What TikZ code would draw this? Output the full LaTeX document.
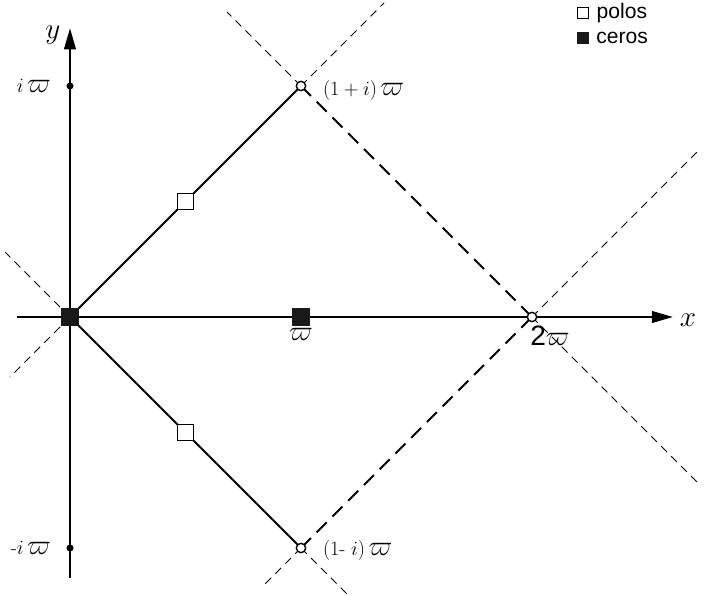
\documentclass[tikz,border=0pt]{standalone}
\usepackage{fontspec}
\setsansfont{Liberation Sans}
\usepackage{graphicx}
\usetikzlibrary{arrows.meta, positioning}

\newcommand{\bvarpi}{\scalebox{1.4}{$\varpi$}}

\begin{document}
\begin{tikzpicture}[
  x=6.93cm, y=6.93cm,
  every node/.style={font=\fontsize{17.28}{20}\selectfont},
  axis/.style={line width=1.7pt, -{Triangle[length=18pt,width=10pt]}},
  edge/.style={line width=1.6pt},
  period/.style={line width=1.6pt, dash pattern=on 12pt off 7pt},
  guide/.style={line width=0.8pt, dash pattern=on 7pt off 5pt},
  pole/.style={draw, line width=1.2pt, fill=white, minimum size=14pt, inner sep=0pt},
  zero/.style={fill=black!90, minimum size=15pt, inner sep=0pt},
  corner/.style={circle, draw, line width=1.2pt, fill=white, minimum size=8pt, inner sep=0pt},
  dot/.style={circle, fill=black, minimum size=6pt, inner sep=0pt},
  lbl/.style={inner sep=1pt},
  axlbl/.style={font=\fontsize{24.88}{28}\selectfont, inner sep=0pt},
  key/.style={font=\sffamily\fontsize{18}{21}\selectfont, anchor=west, inner sep=0pt}
]
\useasboundingbox (-0.3030,-1.2035) rectangle (2.7489,1.3723);

% lattice points
\coordinate (O)  at (0,0);
\coordinate (W)  at (1,0);
\coordinate (W2) at (2,0);
\coordinate (P)  at (1,1);
\coordinate (M)  at (1,-1);

% ends of the guide lines
\coordinate (ul) at (-0.28,0.28);
\coordinate (ll) at (-0.26,-0.26);
\coordinate (tl) at (0.68,1.32);
\coordinate (tr) at (1.36,1.36);
\coordinate (bl) at (0.83,-1.17);
\coordinate (br) at (1.2,-1.2);
\coordinate (er) at (2.72,0.72);
\coordinate (fr) at (2.72,-0.72);

% axes
\coordinate (xs) at (-0.23,0);
\coordinate (xe) at (2.61,0);
\coordinate (ys) at (0,-1.13);
\coordinate (ye) at (0,1.25);
\draw[axis] (xs) -- (xe);
\draw[axis] (ys) -- (ye);
\node[axlbl] (xl) at (2.675,-0.013) {$x$};
\node[axlbl] (yl) at (-0.074,1.221) {$y$};

% guide lines
\draw[guide] (O) -- (ul);
\draw[guide] (O) -- (ll);
\draw[guide] (P) -- (tl);
\draw[guide] (P) -- (tr);
\draw[guide] (M) -- (bl);
\draw[guide] (M) -- (br);
\draw[guide] (W2) -- (er);
\draw[guide] (W2) -- (fr);

% fundamental cell
\draw[edge] (O) -- (P);
\draw[edge] (O) -- (M);
\draw[period] (P) -- (W2);
\draw[period] (M) -- (W2);

% poles and zeros
\node[pole] (p1) at (0.5,0.5) {};
\node[pole] (p2) at (0.5,-0.5) {};
\node[zero] (z0) at (O) {};
\node[zero] (z1) at (W) {};
\node[corner] (c1) at (P) {};
\node[corner] (c2) at (M) {};
\node[corner] (c3) at (W2) {};
\node[dot] (ip) at (0,1) {};
\node[dot] (im) at (0,-1) {};

% labels
\node[lbl, left=12pt of ip] {$i$\,\bvarpi};
\node[lbl, left=12pt of im] {$\mbox{-}i$\,\bvarpi};
\node[lbl, right=13pt of c1, yshift=-4pt] {$(1+i)$\,\bvarpi};
\node[lbl, right=13pt of c2, yshift=-2pt] {$(1\mbox{-}\;i)$\,\bvarpi};
\node[lbl, below=1pt of z1] {\bvarpi};
\node[lbl] (l2) at (2.078,-0.08) {{\sffamily\fontsize{24}{28}\selectfont 2}\bvarpi};

% legend
\node[pole, minimum size=10pt, line width=0.8pt] (kp) at (2.221,1.316) {};
\node[zero, minimum size=10pt] (kz) at (2.221,1.208) {};
\node[key, right=6pt of kp] {polos};
\node[key, right=6pt of kz] {ceros};
\end{tikzpicture}
\end{document}
